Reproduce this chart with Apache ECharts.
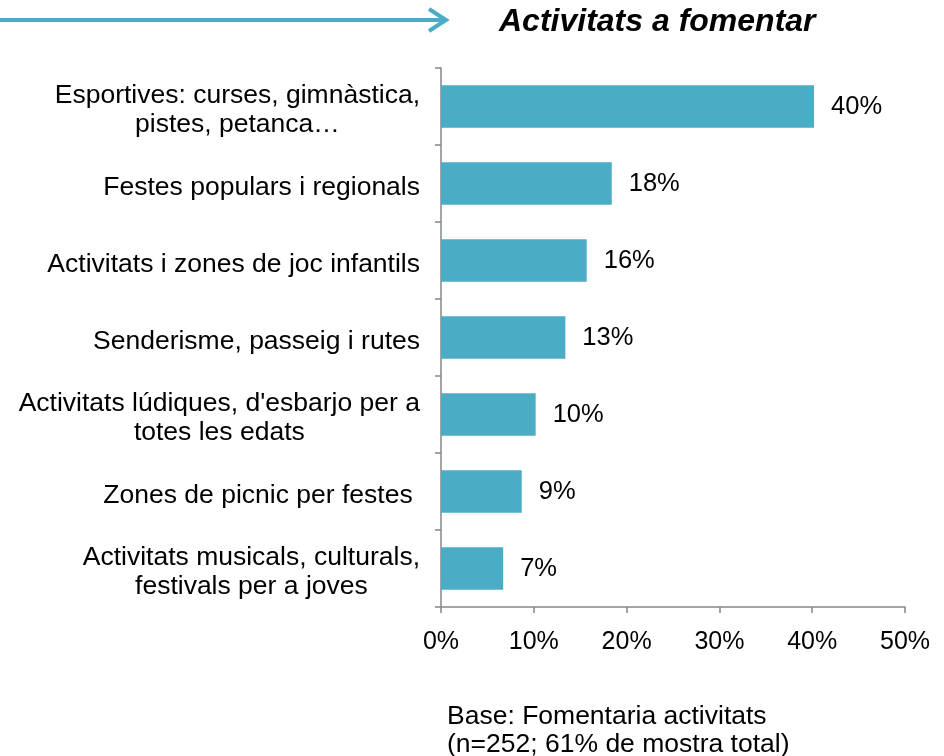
<!DOCTYPE html>
<html>
<head>
<meta charset="utf-8">
<title>Activitats a fomentar</title>
<script src="https://cdn.jsdelivr.net/npm/echarts@6/dist/echarts.min.js"></script>
<style>
  html, body { margin: 0; padding: 0; background: #fff; }
  #chart { width: 944px; height: 756px; }
</style>
</head>
<body>
<div id="chart"></div>
<script>
// categories top to bottom
const categories = [
  'Esportives: curses, gimnàstica,\npistes, petanca…',
  'Festes populars i regionals',
  'Activitats i zones de joc infantils',
  'Senderisme, passeig i rutes',
  "Activitats lúdiques, d'esbarjo per a\ntotes les edats",
  'Zones de picnic per festes ',
  'Activitats musicals, culturals,\nfestivals per a joves'
];
// percentages
const values = [40.2, 18.4, 15.7, 13.4, 10.2, 8.7, 6.7];
const xTicks = [0, 10, 20, 30, 40, 50];
const titleText = 'Activitats a fomentar';
const baseNote = ['Base: Fomentaria activitats', '(n=252; 61% de mostra total)'];

const FONT = 'Liberation Sans, Arial, sans-serif';
const BAR = '#4BACC6';
const AXIS = '#868686';

let chart = echarts.init(document.getElementById('chart'));

chart.setOption({
  animation: false,
  title: {
    text: titleText,
    left: 499,
    top: 6,
    padding: 0,
    textStyle: {
      fontFamily: FONT,
      fontSize: 32,
      fontWeight: 'bold',
      fontStyle: 'italic',
      color: '#000'
    }
  },
  graphic: [
    {
      type: 'line',
      shape: { x1: 0, y1: 20, x2: 444, y2: 20 },
      style: { stroke: BAR, lineWidth: 4 }
    },
    {
      type: 'polyline',
      shape: { points: [[429, 9], [446, 20], [429, 31]] },
      style: { stroke: BAR, lineWidth: 4, fill: null, lineJoin: 'miter' }
    },
    {
      type: 'text',
      left: 447,
      top: 703,
      style: {
        text: baseNote.join('\n'),
        font: '26.5px ' + FONT,
        lineHeight: 28,
        fill: '#000'
      }
    }
  ],
  grid: {
    left: 441,
    right: 39,
    top: 68,
    bottom: 149,
    containLabel: false
  },
  xAxis: {
    type: 'value',
    min: xTicks[0],
    max: xTicks[xTicks.length - 1],
    interval: 10,
    splitLine: { show: false },
    axisLine: { show: true, lineStyle: { color: AXIS, width: 1.5 } },
    axisTick: { show: true, length: 6, lineStyle: { color: AXIS, width: 1.5 } },
    axisLabel: {
      margin: 23,
      fontFamily: FONT,
      fontSize: 25,
      color: '#000',
      formatter: v => v + '%'
    }
  },
  yAxis: {
    type: 'category',
    data: categories,
    inverse: true,
    axisLine: { show: true, lineStyle: { color: AXIS, width: 1.5 } },
    axisTick: { show: true, length: 6, lineStyle: { color: AXIS, width: 1.5 } },
    axisLabel: {
      margin: 21,
      align: 'right',
      padding: [8, 0, 0, 0],
      fontFamily: FONT,
      fontSize: 26.5,
      lineHeight: 29,
      color: '#000',
      formatter: v => v.split('\n').map(s => '{c|' + s + '}').join('\n'),
      rich: {
        c: { align: 'center', fontFamily: FONT, fontSize: 26.5, lineHeight: 29, color: '#000' }
      }
    }
  },
  series: [{
    type: 'bar',
    data: values,
    barWidth: '55%',
    itemStyle: { color: BAR },
    label: {
      show: true,
      position: 'right',
      distance: 17,
      padding: [6, 0, 0, 0],
      fontFamily: FONT,
      fontSize: 25.5,
      color: '#000',
      formatter: p => Math.round(p.value) + '%'
    }
  }]
});
</script>
</body>
</html>
